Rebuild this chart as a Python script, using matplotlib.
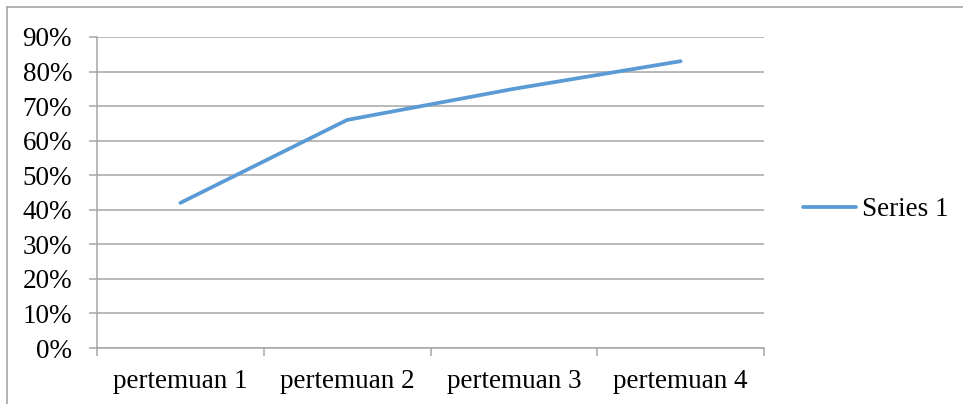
import matplotlib.pyplot as plt
from matplotlib.lines import Line2D
from matplotlib.ticker import FixedLocator, PercentFormatter

plt.rcParams["font.family"] = ["Liberation Serif", "DejaVu Serif"]

# ---- data ----
categories = ["pertemuan 1", "pertemuan 2", "pertemuan 3", "pertemuan 4"]
series_1 = [42, 66, 75, 83]
y_ticks = list(range(0, 91, 10))

W, H = 963, 404
fig = plt.figure(figsize=(W / 100, H / 100), dpi=100)

# outer chart frame (top + left visible, right/bottom cut off)
fig.add_artist(Line2D([7 / W, 1], [1 - 7 / H, 1 - 7 / H], color="#a6a6a6", lw=1.2))
fig.add_artist(Line2D([7 / W, 7 / W], [0, 1 - 7 / H], color="#a6a6a6", lw=1.2))

ax = fig.add_axes([97 / W, 1 - 348 / H, (764 - 97) / W, (348 - 37) / H])

x = list(range(len(categories)))
ax.plot(x, series_1, color="#5b9bd5", lw=2.7, solid_capstyle="round",
        solid_joinstyle="round", label="Series 1", zorder=3)

ax.set_xlim(-0.5, len(categories) - 0.5)
ax.set_ylim(0, 90)
ax.set_yticks(y_ticks)
ax.yaxis.set_major_formatter(PercentFormatter(decimals=0))
ax.grid(axis="y", color="#a6a6a6", lw=1.1)
ax.set_axisbelow(True)

ax.set_xticks(x)
ax.set_xticklabels(categories)
ax.tick_params(axis="x", which="major", length=0, pad=15, labelsize=19.5)
ax.xaxis.set_minor_locator(FixedLocator([i - 0.5 for i in range(len(categories) + 1)]))
ax.tick_params(axis="x", which="minor", length=6, color="#a6a6a6", width=1.1)
ax.tick_params(axis="y", length=6, color="#a6a6a6", width=1.1, pad=12, labelsize=19.5)

for side in ["top", "right"]:
    ax.spines[side].set_visible(False)
ax.spines["left"].set_color("#a6a6a6")
ax.spines["bottom"].set_color("#a6a6a6")
ax.spines["left"].set_linewidth(1.1)
ax.spines["bottom"].set_linewidth(1.1)

fig.legend(loc="center left", bbox_to_anchor=(798 / W, 1 - 210 / H), frameon=False,
           fontsize=19.5, handlelength=1.95, handletextpad=0.2, borderaxespad=0,
           borderpad=0.2)

fig.savefig("out.png", dpi=100)
